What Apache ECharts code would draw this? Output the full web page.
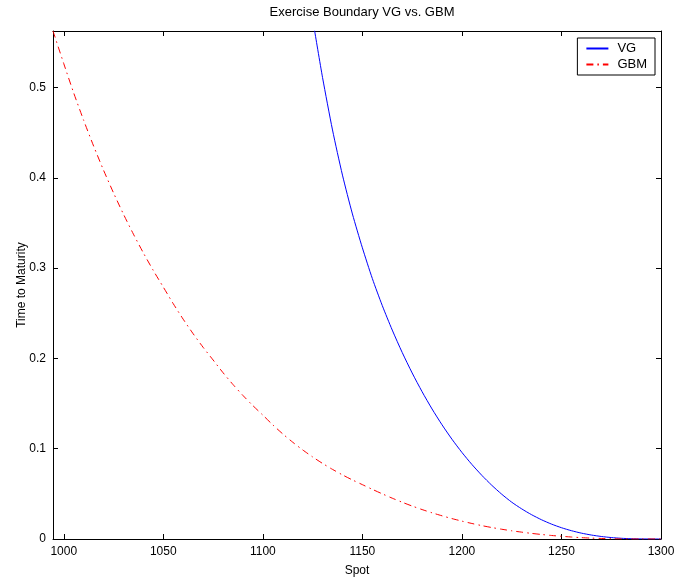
<!DOCTYPE html>
<html>
<head>
<meta charset="utf-8">
<script src="https://cdn.jsdelivr.net/npm/echarts@6/dist/echarts.min.js"></script>
<style>html,body{margin:0;padding:0;background:#fff;}#c{width:678px;height:579px;}</style>
</head>
<body>
<div id="c"></div>
<script>
const titleText = 'Exercise Boundary VG vs. GBM';
const xTicks = [1000, 1050, 1100, 1150, 1200, 1250, 1300];
const yTicks = [0, 0.1, 0.2, 0.3, 0.4, 0.5];
const xRange = [994.6, 1300];
const yRange = [0, 0.5626];

const gbmSpot = [994.6, 1000, 1005, 1010, 1015, 1020, 1025, 1030, 1035, 1040, 1045, 1050, 1055, 1060, 1065, 1070, 1075, 1080, 1085, 1090, 1095, 1100, 1105, 1110, 1115, 1120, 1125, 1130, 1135, 1140, 1145, 1150, 1155, 1160, 1165, 1170, 1175, 1180, 1185, 1190, 1195, 1200, 1205, 1210, 1215, 1220, 1225, 1230, 1235, 1240, 1245, 1250, 1255, 1260, 1265, 1270, 1275, 1280, 1285, 1290, 1300];
const gbmTime = [0.5626, 0.5265, 0.4940, 0.4637, 0.4352, 0.4084, 0.3833, 0.3597, 0.3376, 0.3168, 0.2973, 0.2790, 0.2606, 0.2434, 0.2273, 0.2123, 0.1983, 0.1842, 0.1711, 0.1590, 0.1477, 0.1372, 0.1264, 0.1164, 0.1072, 0.0987, 0.0909, 0.0837, 0.0771, 0.0710, 0.0654, 0.0602, 0.0550, 0.0500, 0.0452, 0.0407, 0.0365, 0.0326, 0.0290, 0.0257, 0.0226, 0.0198, 0.0172, 0.0148, 0.0127, 0.0108, 0.0091, 0.0076, 0.0062, 0.0050, 0.0039, 0.0030, 0.0022, 0.0015, 0.0010, 0.0006, 0.0003, 0.0001, 0, 0, 0];

const vgSpot = [1126, 1130, 1135, 1140, 1145, 1150, 1155, 1160, 1165, 1170, 1175, 1180, 1185, 1190, 1195, 1200, 1205, 1210, 1215, 1220, 1225, 1230, 1235, 1240, 1245, 1250, 1255, 1260, 1265, 1270, 1275, 1280, 1285, 1290, 1295, 1300];
const vgTime = [0.563, 0.511, 0.453, 0.403, 0.360, 0.3225, 0.2885, 0.2585, 0.2314, 0.2066, 0.1839, 0.1631, 0.144, 0.1265, 0.1105, 0.0959, 0.0826, 0.0705, 0.0595, 0.0496, 0.0408, 0.0334, 0.0269, 0.0213, 0.0165, 0.0125, 0.0092, 0.0065, 0.0044, 0.0028, 0.0016, 0.0008, 0.0003, 0.0001, 0, 0];

const FONT = '"Liberation Sans", Arial, Helvetica, sans-serif';
const pair = (xs, ys) => xs.map((x, i) => [x, ys[i]]);

const chart = echarts.init(document.getElementById('c'), null, {renderer: 'canvas'});
const axisBase = {
  axisLine: {show: true, onZero: false, lineStyle: {color: '#000', width: 1}},
  splitLine: {show: false},
  nameMoveOverlap: false
};
chart.setOption({
  animation: false,
  backgroundColor: '#fff',
  title: {
    text: titleText, left: 357, top: 1, textAlign: 'center',
    textStyle: {fontFamily: FONT, fontSize: 13, fontWeight: 'normal', color: '#000'}
  },
  grid: {left: 53, right: 17, top: 31, bottom: 40, containLabel: false, outerBoundsMode: 'none'},
  legend: {
    right: 23, top: 38, orient: 'vertical',
    itemWidth: 22, itemHeight: 12, itemGap: 3,
    padding: [4, 8, 4, 8],
    borderColor: '#000', borderWidth: 1, backgroundColor: '#fff',
    itemStyle: {opacity: 0, borderWidth: 0},
    textStyle: {fontFamily: FONT, fontSize: 13, color: '#000', padding: [0, 0, 0, 4]},
    data: ['VG', 'GBM']
  },
  xAxis: [
    Object.assign({}, axisBase, {
      type: 'value', position: 'bottom', min: xRange[0], max: xRange[1],
      name: 'Spot', nameLocation: 'middle', nameGap: 26,
      nameTextStyle: {fontFamily: FONT, fontSize: 12, color: '#000'},
      axisTick: {show: true, inside: true, length: 5, customValues: xTicks, lineStyle: {color: '#000'}},
      axisLabel: {customValues: xTicks, fontFamily: FONT, fontSize: 12, color: '#000', margin: 7,
        formatter: v => String(v)}
    }),
    Object.assign({}, axisBase, {
      type: 'value', position: 'top', min: xRange[0], max: xRange[1],
      axisTick: {show: true, inside: true, length: 5, customValues: xTicks, lineStyle: {color: '#000'}},
      axisLabel: {show: false}
    })
  ],
  yAxis: [
    Object.assign({}, axisBase, {
      type: 'value', position: 'left', min: yRange[0], max: yRange[1],
      name: 'Time to Maturity', nameLocation: 'middle', nameGap: 25, nameRotate: 90,
      nameTextStyle: {fontFamily: FONT, fontSize: 12, color: '#000'},
      axisTick: {show: true, inside: true, length: 5, customValues: yTicks, lineStyle: {color: '#000'}},
      axisLabel: {customValues: yTicks, fontFamily: FONT, fontSize: 12, color: '#000', margin: 7,
        formatter: v => (v === 0 ? '0' : v.toFixed(1))}
    }),
    Object.assign({}, axisBase, {
      type: 'value', position: 'right', min: yRange[0], max: yRange[1],
      axisTick: {show: true, inside: true, length: 5, customValues: yTicks, lineStyle: {color: '#000'}},
      axisLabel: {show: false}
    })
  ],
  series: [
    {
      name: 'VG', type: 'line', data: pair(vgSpot, vgTime),
      showSymbol: false, symbol: 'none', smooth: 0.25, clip: true,
      lineStyle: {color: '#0000ff', width: 1},
      itemStyle: {color: '#0000ff'}
    },
    {
      name: 'GBM', type: 'line', data: pair(gbmSpot, gbmTime),
      showSymbol: false, symbol: 'none', smooth: 0.25, clip: true,
      lineStyle: {color: '#ff0000', width: 1, type: [7, 4, 1.5, 4]},
      itemStyle: {color: '#ff0000'}
    }
  ]
});
</script>
</body>
</html>
